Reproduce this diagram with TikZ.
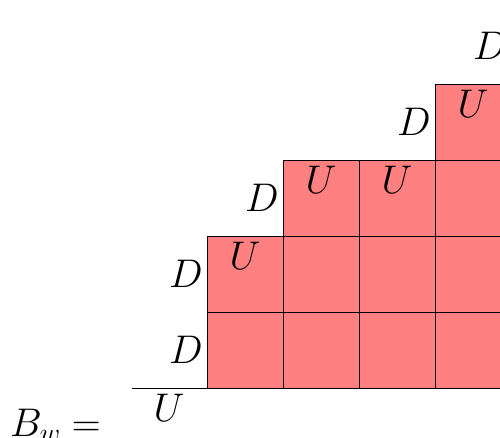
\RequirePackage{fix-cm}
\documentclass[tikz,border=0pt]{standalone}
\begin{document}
\begin{tikzpicture}[x=1pt,y=-1pt,
  cell/.style={draw=black, fill=red!50, line width=0.8pt},
  lbl/.style={font=\fontsize{40}{48}\selectfont, inner sep=0pt},
  base/.style={draw=black, line width=0.8pt}]
\useasboundingbox (0,0) rectangle (500,437);
% columns: index/height
\foreach \c/\h in {1/2,2/3,3/3,4/4,5/5}{
  \foreach \r in {1,...,\h}{
    \draw[cell] ({131+76*\c},{388-76*(\r-1)}) rectangle +(76,-76);
  }
}
\coordinate (b0) at (132,388);
\coordinate (b1) at (207,388);
\draw[base] (b0) -- (b1);
% U labels at top of each column
\foreach \c/\h in {0/0,1/2,2/3,3/3,4/4,5/5}{
  \node[lbl, anchor=north] (u\c) at ({169+76*\c},{388-76*\h+6}) {$U$};
}
% D labels at the left of the rising steps
\foreach \c/\r in {1/1,1/2,2/3,4/4,5/5}{
  \node[lbl, anchor=east] (d\c\r) at ({131+76*\c-4},{388-76*\r+38}) {$D$};
}
\node[lbl, anchor=base west] (bw) at (10,436) {$B_w =$};
\end{tikzpicture}
\end{document}
